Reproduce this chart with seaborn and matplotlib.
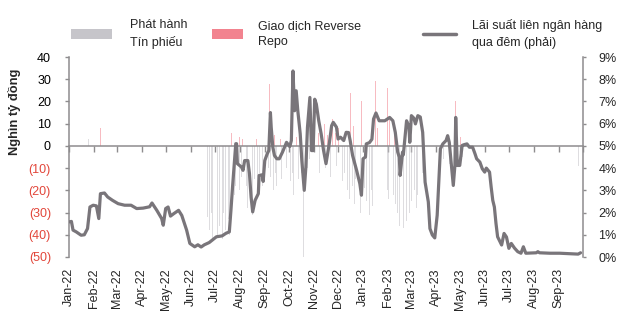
import numpy as np
import pandas as pd
import matplotlib
matplotlib.use("Agg")
import matplotlib.pyplot as plt
import matplotlib.dates as mdates
from matplotlib.patches import Patch
from matplotlib.lines import Line2D
import seaborn as sns

# ---------------- data ----------------
rate_dates = [
    "2022-01-01", "2022-01-04", "2022-01-06", "2022-01-10", "2022-01-16", "2022-01-20", "2022-01-24",
    "2022-01-27", "2022-01-31", "2022-02-04", "2022-02-07", "2022-02-09", "2022-02-14", "2022-02-18",
    "2022-02-24", "2022-03-03", "2022-03-11", "2022-03-19", "2022-03-26", "2022-04-03", "2022-04-11",
    "2022-04-14", "2022-04-20", "2022-04-26", "2022-04-28", "2022-05-01", "2022-05-04", "2022-05-07",
    "2022-05-11", "2022-05-17", "2022-05-21", "2022-05-27", "2022-05-31", "2022-06-06", "2022-06-10",
    "2022-06-14", "2022-06-18", "2022-06-24", "2022-07-03", "2022-07-10", "2022-07-15", "2022-07-19",
    "2022-07-21", "2022-07-23", "2022-07-27", "2022-07-28", "2022-07-29", "2022-08-03", "2022-08-05",
    "2022-08-07", "2022-08-11", "2022-08-13", "2022-08-15", "2022-08-17", "2022-08-20", "2022-08-24",
    "2022-08-25", "2022-08-29", "2022-08-30", "2022-09-01", "2022-09-04", "2022-09-06", "2022-09-08",
    "2022-09-09", "2022-09-11", "2022-09-13", "2022-09-16", "2022-09-19", "2022-09-23", "2022-09-28",
    "2022-10-02", "2022-10-04", "2022-10-06", "2022-10-08", "2022-10-10", "2022-10-12", "2022-10-15",
    "2022-10-17", "2022-10-20", "2022-10-22", "2022-10-24", "2022-10-27", "2022-10-29", "2022-10-31",
    "2022-11-02", "2022-11-04", "2022-11-07", "2022-11-10", "2022-11-13", "2022-11-16", "2022-11-20",
    "2022-11-23", "2022-11-25", "2022-11-29", "2022-12-01", "2022-12-04", "2022-12-08", "2022-12-11",
    "2022-12-14", "2022-12-16", "2022-12-19", "2022-12-24", "2022-12-28", "2022-12-30", "2023-01-01",
    "2023-01-04", "2023-01-05", "2023-01-09", "2023-01-12", "2023-01-14", "2023-01-17", "2023-01-21",
    "2023-01-28", "2023-02-03", "2023-02-07", "2023-02-10", "2023-02-13", "2023-02-15", "2023-02-16",
    "2023-02-19", "2023-02-20", "2023-02-24", "2023-02-27", "2023-02-28", "2023-03-02", "2023-03-05",
    "2023-03-07", "2023-03-10", "2023-03-13", "2023-03-16", "2023-03-19", "2023-03-23", "2023-03-25",
    "2023-03-28", "2023-03-31", "2023-04-03", "2023-04-05", "2023-04-07", "2023-04-10", "2023-04-14",
    "2023-04-16", "2023-04-18", "2023-04-21", "2023-04-23", "2023-04-25", "2023-04-26", "2023-04-28",
    "2023-05-01", "2023-05-04", "2023-05-06", "2023-05-10", "2023-05-13", "2023-05-17", "2023-05-20",
    "2023-05-22", "2023-05-26", "2023-05-29", "2023-06-01", "2023-06-03", "2023-06-07", "2023-06-09",
    "2023-06-11", "2023-06-13", "2023-06-15", "2023-06-17", "2023-06-22", "2023-06-25", "2023-06-28",
    "2023-07-01", "2023-07-04", "2023-07-08", "2023-07-12", "2023-07-16", "2023-07-19", "2023-07-22",
    "2023-08-04", "2023-08-06", "2023-08-08", "2023-08-21", "2023-09-02", "2023-09-14", "2023-09-25",
    "2023-09-28",
]
rate_values = [
    1.58, 1.60, 1.21, 1.13, 0.98, 1.00, 1.28,
    2.25, 2.33, 2.30, 1.73, 2.85, 2.88, 2.70,
    2.55, 2.40, 2.33, 2.33, 2.18, 2.20, 2.26,
    2.43, 2.10, 1.73, 1.43, 2.18, 2.25, 1.84,
    1.95, 2.10, 1.87, 1.21, 0.61, 0.46, 0.55,
    0.45, 0.55, 0.65, 0.91, 0.95, 1.07, 1.13,
    2.10, 3.15, 5.10, 5.10, 4.20, 4.05, 3.90,
    4.34, 4.34, 3.75, 2.70, 2.03, 2.55, 2.85,
    3.67, 3.70, 3.40, 4.34, 4.64, 4.79, 6.50,
    5.84, 4.94, 4.57, 4.42, 4.42, 4.72, 5.16,
    4.97, 5.24, 8.37, 6.58, 7.48, 6.58, 5.54,
    4.34, 3.00, 4.04, 5.84, 7.18, 4.79, 4.79,
    7.10, 6.88, 6.13, 5.54, 4.79, 4.20, 5.09,
    5.91, 6.06, 5.84, 5.31, 5.39, 5.24, 5.61,
    5.60, 5.24, 4.57, 3.90, 3.30, 2.78, 4.42,
    4.50, 5.09, 5.15, 5.30, 6.21, 6.48, 6.13,
    6.13, 6.28, 6.13, 5.61, 4.72, 4.49, 3.67,
    4.72, 4.60, 6.13, 5.85, 5.16, 6.36, 6.25,
    5.99, 6.36, 6.30, 5.61, 3.37, 2.48, 1.28,
    0.99, 0.86, 1.88, 3.37, 4.87, 5.09, 5.24,
    5.46, 5.16, 3.97, 3.22, 4.12, 6.28, 4.12,
    4.12, 5.02, 5.05, 5.09, 4.94, 4.94, 4.64,
    4.42, 4.27, 3.97, 3.82, 4.00, 3.82, 3.15,
    2.55, 2.25, 1.51, 0.91, 0.54, 1.06, 0.90,
    0.39, 0.61, 0.40, 0.24, 0.17, 0.46, 0.17,
    0.19, 0.24, 0.19, 0.17, 0.17, 0.15, 0.13,
    0.19,
]

# Phát hành tín phiếu (nghìn tỷ đồng)
bill_dates = [
    "2022-01-25",
    "2022-06-20", "2022-06-22", "2022-06-24", "2022-06-27", "2022-06-28", "2022-06-30", "2022-07-04",
    "2022-07-05", "2022-07-07", "2022-07-11", "2022-07-12", "2022-07-14", "2022-07-18", "2022-07-19",
    "2022-07-21", "2022-07-25", "2022-07-27", "2022-08-01", "2022-08-03", "2022-08-05", "2022-08-09",
    "2022-08-11", "2022-08-15", "2022-08-17", "2022-08-19", "2022-08-23", "2022-08-25", "2022-08-29",
    "2022-09-06", "2022-09-08", "2022-09-12", "2022-09-14", "2022-09-16", "2022-09-20", "2022-09-22",
    "2022-09-26", "2022-09-28", "2022-10-03", "2022-10-05", "2022-10-07", "2022-10-11", "2022-10-13",
    "2022-10-17", "2022-10-19", "2022-10-24", "2022-10-27", "2022-11-01", "2022-11-08", "2022-11-15",
    "2022-11-22", "2022-11-29", "2022-12-06", "2022-12-09", "2022-12-13", "2022-12-15", "2022-12-19",
    "2022-12-21", "2022-12-23", "2022-12-27", "2022-12-29", "2023-01-03", "2023-01-05", "2023-01-09",
    "2023-01-11", "2023-01-13", "2023-01-17", "2023-01-31", "2023-02-02", "2023-02-06", "2023-02-08",
    "2023-02-10", "2023-02-13", "2023-02-15", "2023-02-17", "2023-02-20", "2023-02-22", "2023-02-24",
    "2023-02-28", "2023-03-02", "2023-03-06", "2023-03-08", "2023-03-10", "2023-03-14", "2023-03-16",
    "2023-04-11", "2023-04-18", "2023-05-04", "2023-09-25",
]
bill_values = [
    3,
    -20, -32, -38, -30, -42, -35, -40,
    -28, -36, -42, -30, -38, -33, -40,
    -26, -22, -18, -20, -14, -25, -18,
    -28, -20, -31, -15, -22, -12, -18,
    -10, -14, -20, -12, -18, -8, -15,
    -20, -10, -16, -12, -22, -9, -15,
    -12, -50, -10, -6, -8, -12, -10,
    -14, -9, -16, -12, -20, -24, -18,
    -26, -15, -22, -30, -19, -25, -31,
    -20, -27, -15, -20, -24, -18, -22,
    -26, -30, -36, -33, -37, -28, -34,
    -30, -25, -20, -28, -22, -18, -12,
    -6, -8, -5, -9,
]

# Giao dịch Reverse Repo (nghìn tỷ đồng)
repo_dates = [
    "2022-02-09", "2022-07-22", "2022-07-26", "2022-08-01", "2022-08-04", "2022-08-22", "2022-09-07",
    "2022-09-09", "2022-09-13", "2022-09-21", "2022-10-04", "2022-10-10", "2022-10-26", "2022-11-02",
    "2022-11-07", "2022-11-14", "2022-11-18", "2022-11-24", "2022-11-28", "2022-12-02", "2022-12-07",
    "2022-12-12", "2022-12-16", "2022-12-20", "2022-12-22", "2022-12-27", "2022-12-30", "2023-01-06",
    "2023-01-16", "2023-01-19", "2023-01-27", "2023-01-31", "2023-02-03", "2023-02-09", "2023-04-14",
    "2023-04-19", "2023-04-26", "2023-05-02",
]
repo_values = [
    8, 6, 15, 4, 3, 3, 28,
    8, 5, 3, 6, 4, 3, 8,
    6, 10, 5, 12, 6, 8, 14,
    10, 24, 9, 18, 6, 20, 10,
    29, 8, 6, 26, 12, 5, 24,
    8, 20, 4,
]

month_labels = ["Jan-22", "Feb-22", "Mar-22", "Apr-22", "May-22", "Jun-22", "Jul-22", "Aug-22",
                "Sep-22", "Oct-22", "Nov-22", "Dec-22", "Jan-23", "Feb-23", "Mar-23", "Apr-23",
                "May-23", "Jun-23", "Jul-23", "Aug-23", "Sep-23"]
left_ticks = [-50, -40, -30, -20, -10, 0, 10, 20, 30, 40]
right_ticks = [0, 1, 2, 3, 4, 5, 6, 7, 8, 9]

# ---------------- style ----------------
sns.set_theme(style="white")
plt.rcParams["font.family"] = ["Liberation Sans", "DejaVu Sans"]

AX_GRAY = "#8e8c8e"
LINE_C = "#79757a"
BILL_C = "#c3c1c7"
REPO_C = "#f2838f"
NEG_C = "#e2463a"

fig = plt.figure(figsize=(6.4, 3.28), dpi=100)
ax = fig.add_axes([69 / 640, 71 / 328, 514 / 640, 200 / 328])
ax2 = ax.twinx()

bill_df = pd.DataFrame({"date": pd.to_datetime(bill_dates), "value": bill_values})
repo_df = pd.DataFrame({"date": pd.to_datetime(repo_dates), "value": repo_values})
rate_df = pd.DataFrame({"date": pd.to_datetime(rate_dates), "rate": rate_values})

ax.bar(bill_df["date"], bill_df["value"], width=1.0, color=BILL_C, alpha=0.55, linewidth=0, zorder=1)
ax.bar(repo_df["date"], repo_df["value"], width=1.0, color=REPO_C, alpha=0.55, linewidth=0, zorder=1)

sns.lineplot(data=rate_df, x="date", y="rate", ax=ax2, color=LINE_C, linewidth=2.3)

x0, x1 = pd.Timestamp("2022-01-01"), pd.Timestamp("2023-10-01")
ax.set_xlim(x0, x1)
ax.set_ylim(-50, 40)
ax2.set_ylim(0, 9)

# left axis
ax.set_yticks(left_ticks, labels=[f"({abs(v)})" if v < 0 else f"{v}" for v in left_ticks])
for v, t in zip(left_ticks, ax.get_yticklabels()):
    t.set_color(NEG_C if v < 0 else "black")
ax.tick_params(axis="y", left=True, length=3, width=1, color=AX_GRAY, pad=10, labelsize=9)

# zero-line x axis with monthly tick marks
ax.spines["bottom"].set_position(("data", 0))
ax.xaxis.set_major_locator(mdates.MonthLocator())
ax.tick_params(axis="x", bottom=True, length=4, width=1, color=AX_GRAY, direction="out", labelbottom=False)
for s in ["top", "right"]:
    ax.spines[s].set_visible(False)
for s in ["left", "bottom"]:
    ax.spines[s].set_color(AX_GRAY)
    ax.spines[s].set_linewidth(1.1)
ax.set_xlabel("")
ax.set_ylabel("")

# right axis
ax2.set_yticks(right_ticks, labels=[f"{v}%" for v in right_ticks])
ax2.tick_params(axis="y", right=True, length=2.5, width=1, color=AX_GRAY, pad=8.5, labelsize=9)
for s in ["top", "left", "bottom"]:
    ax2.spines[s].set_visible(False)
ax2.spines["right"].set_color(AX_GRAY)
ax2.spines["right"].set_linewidth(1.1)
ax2.set_xlabel("")
ax2.set_ylabel("")
ax2.set_xlim(x0, x1)

# month labels at bottom of plot area
sec = ax.secondary_xaxis("bottom")
month_pos = mdates.date2num(pd.date_range("2022-01-01", periods=len(month_labels), freq="MS"))
sec.set_ticks(month_pos, labels=month_labels)
sec.tick_params(axis="x", length=0, pad=8, labelsize=9, labelrotation=90)
sec.spines["bottom"].set_visible(False)

# y-axis title
fig.text(15 / 640, 1 - 111.5 / 328, "Nghìn tỷ đồng", rotation=90, ha="center", va="center",
         fontsize=9.3, fontweight="bold")

# legends
common = dict(loc="center left", frameon=False, fontsize=9, borderpad=0, borderaxespad=0)
l1 = fig.legend(handles=[Patch(facecolor="#c6c5ca", linewidth=0)], labels=["Phát hành\nTín phiếu"],
                bbox_to_anchor=(71 / 640, 1 - 34 / 328), handlelength=3.28, handleheight=0.8,
                handletextpad=1.44, **common)
l2 = fig.legend(handles=[Patch(facecolor=REPO_C, linewidth=0)], labels=["Giao dịch Reverse\nRepo"],
                bbox_to_anchor=(212 / 640, 1 - 34 / 328), handlelength=2.48, handleheight=0.8,
                handletextpad=1.2, **common)
l3 = fig.legend(handles=[Line2D([], [], color=LINE_C, linewidth=2.5)],
                labels=["Lãi suất liên ngân hàng\nqua đêm (phải)"],
                bbox_to_anchor=(423 / 640, 1 - 34 / 328), handlelength=2.6, handleheight=0.8,
                handletextpad=1.32, **common)
for lg in (l1, l2, l3):
    for t in lg.get_texts():
        t.set_linespacing(1.5)

fig.savefig("out.png", dpi=100)
